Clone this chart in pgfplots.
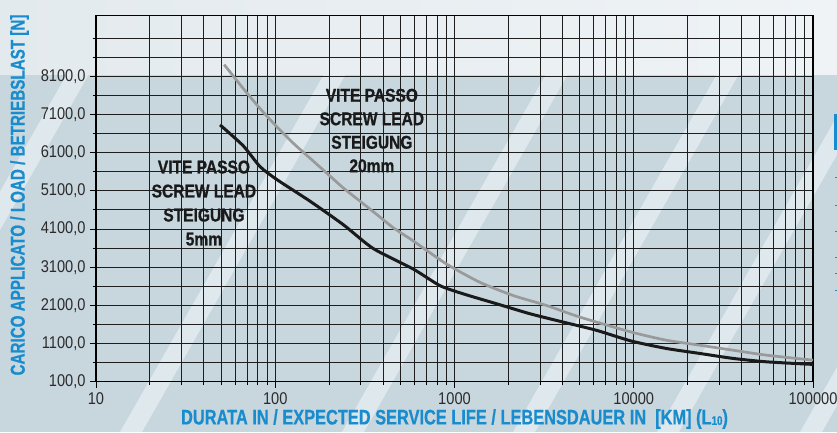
\documentclass[border=0pt]{standalone}
\usepackage{pgfplots}
\pgfplotsset{compat=1.18}
\usepackage{fontspec}
\setmainfont{Liberation Sans}
\newfontfamily\condA[FakeStretch=0.78, BoldFeatures={FakeBold=0.6}]{Liberation Sans}
\newfontfamily\condY[FakeStretch=0.76, BoldFeatures={FakeBold=0.6}]{Liberation Sans}
\newfontfamily\condB[FakeStretch=0.86]{Liberation Sans}
\newfontfamily\annot[FakeStretch=0.84, BoldFeatures={FakeBold=0.8}]{Liberation Sans}
\definecolor{bgdark}{HTML}{C8D6DE}
\definecolor{stripe}{HTML}{DFE8ED}
\definecolor{topL}{HTML}{E3EAEE}
\definecolor{topR}{HTML}{EFF3F6}
\definecolor{cyanlab}{RGB}{24,140,205}
\definecolor{ticktxt}{HTML}{2B2B2B}
\definecolor{gridc}{HTML}{1E1E1E}
\definecolor{curvegrey}{HTML}{9A9A9A}
\definecolor{curveblack}{HTML}{1A1A1A}
\begin{document}
\begin{tikzpicture}[x=1pt,y=1pt]
\useasboundingbox (-96,-50.3) rectangle (741,381.7);
\fill[bgdark] (-96,-50.3) rectangle (741,381.7);
\foreach \b in {-137,120,342,513,657,800} {
  \fill[stripe] (\b-96,-50.3) -- (\b-74,-50.3) -- (\b-74+204,307.7) -- (\b-96+204,307.7) -- cycle;
}
\shade[left color=topL, right color=topR] (-96,307.7) rectangle (741,381.7);
% cut-off element at right edge
\fill[cyanlab] (738,267.7) rectangle (741,231.7);
\foreach \yy in {177,205,231,257,273,290} {
  \draw[cyanlab, line width=0.8pt] (739,381.7-\yy) -- (741,381.7-\yy);
}
\begin{axis}[
  at={(0,0)}, anchor=south west,
  scale only axis, width=717pt, height=366.4pt,
  xmode=log, xmin=10, xmax=100000, ymin=100, ymax=9700,
  xtick={10,100,1000,10000,100000},
  xticklabels={10,100,1000,10000,100000},
  minor xtick={20,30,40,50,60,70,80,90,200,300,400,500,600,700,800,900,2000,3000,4000,5000,6000,7000,8000,9000,20000,30000,40000,50000,60000,70000,80000,90000},
  ytick={100,1100,2100,3100,4100,5100,6100,7100,8100},
  yticklabels={{100,0},{1100,0},{2100,0},{3100,0},{4100,0},{5100,0},{6100,0},{7100,0},{8100,0}},
  minor ytick={600,1600,2600,3600,4600,5600,6600,7600,8600,9100},
  grid=both,
  major grid style={draw=gridc, line width=1pt},
  minor grid style={draw=gridc, line width=1pt},
  tick pos=left, tick align=outside,
  major tick length=6pt, minor tick length=3.5pt,
  tick style={draw=black, line width=1pt},
  axis line style={draw=black, line width=1.4pt},
  ticklabel style={font=\condB\fontsize{17}{17}\selectfont, text=ticktxt},
  xticklabel style={yshift=-1pt},
  yticklabel style={xshift=-1pt},
  xlabel={DURATA IN / EXPECTED SERVICE LIFE / LEBENSDAUER IN\ \ [KM] (L\raisebox{-0.5pt}{\fontsize{12.5}{12.5}\selectfont 10})},
  ylabel={CARICO APPLICATO / LOAD / BETRIEBSLAST [N]},
  x label style={at={(axis description cs:0.5,-0.1018)}, anchor=center, font=\condA\bfseries\fontsize{21}{21}\selectfont, text=cyanlab},
  y label style={at={(axis description cs:-0.1067,0.5096)}, anchor=center, font=\condY\bfseries\fontsize{20}{20}\selectfont, text=cyanlab},
  clip=false,
]
\addplot[curvegrey, line width=2.7pt, line join=round, line cap=butt, smooth, tension=0.4] coordinates {
(51.9,8407)(66.3,7782)(82.1,7261)(101.8,6785)(126,6350)(156,5960)(193.5,5569)(239.5,5178)(296.8,4832)(367.8,4485)(455,4136)(588,3790)(903,3183)(1386,2704)(2125,2358)(3264,2097)(5004,1793)(9700,1400)(15240,1186)(23370,1056)(35840,925)(55050,795)(100000,665)
};
\addplot[curveblack, line width=3pt, line join=round, line cap=butt, smooth, tension=0.4] coordinates {
(49.2,6829)(66.3,6280)(82.1,5740)(101.8,5400)(156,4832)(239.5,4215)(352,3590)(588,3053)(829,2618)(1118,2402)(1717,2142)(2634,1881)(4039,1662)(6201,1446)(9700,1165)(15240,970)(23370,840)(35840,710)(55050,621)(100000,553)
};
\node[align=center, text=curveblack, font=\annot\bfseries\fontsize{18.5}{23.5}\selectfont] at (axis cs:346,6680) {VITE PASSO\\SCREW LEAD\\STEIGUNG\\20mm};
\node[align=center, text=curveblack, font=\annot\bfseries\fontsize{18.5}{24}\selectfont] at (axis cs:40,4780) {VITE PASSO\\SCREW LEAD\\STEIGUNG\\5mm};
\end{axis}
\end{tikzpicture}
\end{document}
